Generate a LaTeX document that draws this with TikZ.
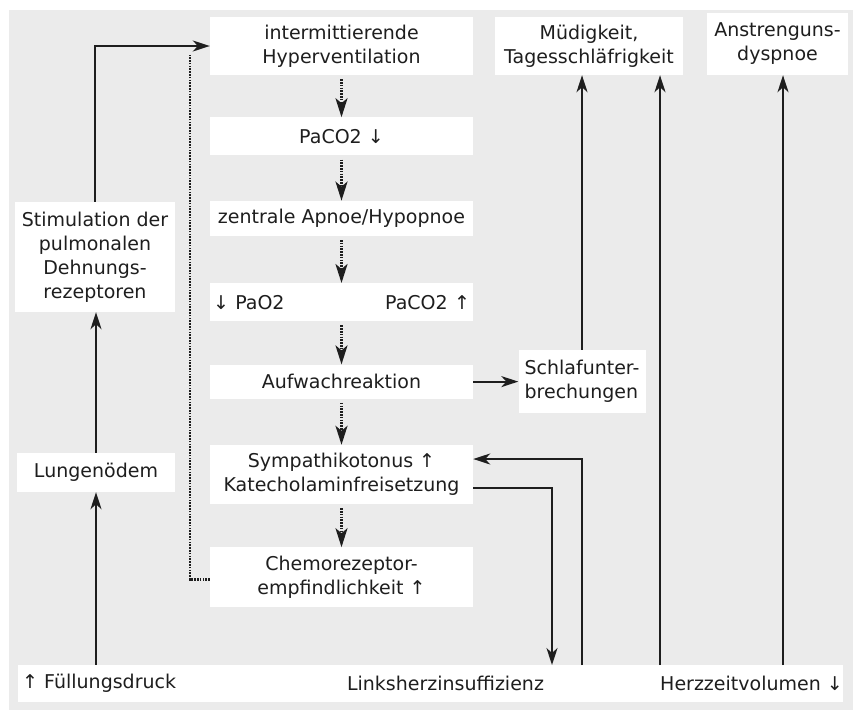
\documentclass[tikz,border=0pt]{standalone}
\usepackage{fontspec}
\setmainfont{DejaVu Sans}
\usepackage{tikz}
\usetikzlibrary{arrows.meta,positioning}
\definecolor{PanelGray}{HTML}{EBEBEB}
\definecolor{InkBlack}{HTML}{1E1E1E}
\tikzset{
  box/.style={fill=white,align=center,inner sep=3pt,text=InkBlack,
              font=\fontsize{19}{24}\selectfont},
  colbox/.style={box,minimum width=263pt},
  striptext/.style={inner sep=3pt,text=InkBlack,font=\fontsize{19}{24}\selectfont},
  flow/.style={-{Stealth[length=17pt,width=11pt,inset=5pt]},line width=1.9pt,draw=InkBlack},
  dotflow/.style={-{Stealth[length=19pt,width=12pt,inset=5pt]},line width=2.4pt,
                  dash pattern=on 1.6pt off 1.2pt,draw=InkBlack,shorten <=4pt},
  feedback/.style={line width=2.4pt,dash pattern=on 1.6pt off 1.2pt,draw=InkBlack}
}
\begin{document}
\begin{tikzpicture}[x=1pt,y=-1pt]
  \useasboundingbox (0,0) rectangle (853,710);
  \fill[white] (0,0) rectangle (853,710);
  \fill[PanelGray] (9,10) rectangle (853,710);

  % central chain
  \node[colbox,minimum height=58pt] (hyper) at (341.5,46) {intermittierende\\Hyperventilation};
  \node[colbox,minimum height=38pt,below=42pt of hyper] (paco2) {PaCO2 ↓};
  \node[colbox,minimum height=35pt,below=45pt of paco2] (apnoe) {zentrale Apnoe/Hypopnoe};
  \node[box,align=left,text width=257pt,minimum height=38pt,below=47pt of apnoe] (pao2) {↓ PaO2\hfill PaCO2 ↑};
  \node[colbox,minimum height=34pt,below=43pt of pao2] (aufwach) {Aufwachreaktion};
  \node[colbox,minimum height=59pt,below=46pt of aufwach] (sympath) {Sympathikotonus ↑\\Katecholaminfreisetzung};
  \node[colbox,minimum height=60pt,below=43pt of sympath] (chemo) {Chemorezeptor-\\empfindlichkeit ↑};

  % left column
  \node[box,minimum width=160pt,minimum height=110pt] (stim) at (95,257) {Stimulation der\\pulmonalen\\Dehnungs-\\rezeptoren};
  \node[box,minimum width=158pt,minimum height=39pt] (lungen) at (96,472.5) {Lungenödem};

  % right side
  \node[box,align=left,minimum width=127pt,minimum height=63pt] (schlaf) at (582,381.5) {Schlafunter-\\brechungen};
  \node[box,minimum width=188pt,minimum height=58pt] (muede) at (589,46) {Müdigkeit,\\Tagesschläfrigkeit};
  \node[box,minimum width=141pt,minimum height=62pt] (anstr) at (777.5,44) {Anstrenguns-\\dyspnoe};

  % bottom strip
  \node[box,minimum width=825pt,minimum height=37pt] (strip) at (430.5,683.5) {};
  \node[striptext,anchor=west] (fuell) at (19,683.5) {↑ Füllungsdruck};
  \node[striptext] (links) at (445.5,683.5) {Linksherzinsuffizienz};
  \node[striptext] (herz) at (751.5,683.5) {Herzzeitvolumen ↓};

  \coordinate (fbtop) at (190,55);
  \coordinate (linksIn) at (552,665);
  \coordinate (linksOut) at (582,665);
  \coordinate (herzA) at (660,665);
  \coordinate (herzB) at (783,665);

  \foreach \a/\b in {hyper/paco2,paco2/apnoe,apnoe/pao2,pao2/aufwach,aufwach/sympath,sympath/chemo}
    \draw[dotflow] (\a) -- (\b);
  \draw[feedback] ([yshift=-2pt]chemo.west) -| (fbtop);

  \draw[flow] (strip.north -| lungen.south) -- (lungen.south);
  \draw[flow] (lungen.north) -- (lungen.north |- stim.south);
  \draw[flow] (stim.north) |- (hyper.west);
  \draw[flow] (aufwach.east) -- (aufwach.east -| schlaf.west);
  \draw[flow] (schlaf.north) -- (schlaf.north |- muede.south);
  \draw[flow] ([yshift=-13.5pt]sympath.east) -| (linksIn);
  \draw[flow] (linksOut) |- ([yshift=15.5pt]sympath.east);
  \draw[flow] (herzA) -- (herzA |- muede.south);
  \draw[flow] (herzB) -- (herzB |- anstr.south);
\end{tikzpicture}
\end{document}
